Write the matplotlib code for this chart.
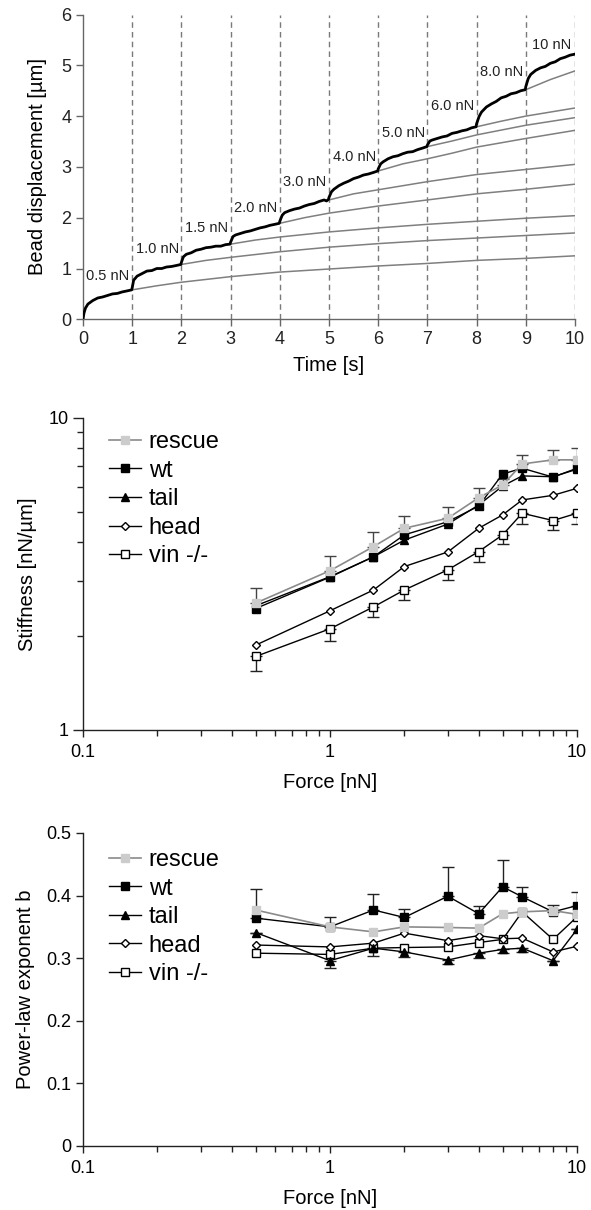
import numpy as np
import matplotlib
matplotlib.use("Agg")
import matplotlib.pyplot as plt
from matplotlib.ticker import LogLocator, NullFormatter, FixedLocator, FixedFormatter

plt.rcParams['font.family'] = ['Liberation Sans', 'DejaVu Sans']

# ---- panel A: bead displacement trace ----
trace_t = [0.00, 0.02, 0.05, 0.10, 0.20, 0.30, 0.40, 0.50, 0.60, 0.70, 0.80, 0.90, 0.99,
           1.00, 1.03, 1.10, 1.20, 1.30, 1.40, 1.50, 1.60, 1.70, 1.80, 1.90, 1.99,
           2.00, 2.04, 2.10, 2.20, 2.30, 2.40, 2.50, 2.60, 2.70, 2.80, 2.90, 2.99,
           3.00, 3.05, 3.10, 3.20, 3.30, 3.40, 3.50, 3.60, 3.70, 3.80, 3.90, 3.99,
           4.00, 4.05, 4.10, 4.20, 4.30, 4.40, 4.50, 4.60, 4.70, 4.80, 4.90, 4.95, 4.99,
           5.00, 5.05, 5.10, 5.20, 5.30, 5.40, 5.50, 5.60, 5.70, 5.80, 5.90, 5.99,
           6.00, 6.05, 6.10, 6.20, 6.30, 6.40, 6.50, 6.60, 6.70, 6.80, 6.90, 6.99,
           7.00, 7.05, 7.10, 7.20, 7.30, 7.40, 7.50, 7.60, 7.70, 7.80, 7.90, 7.99,
           8.00, 8.05, 8.10, 8.20, 8.30, 8.40, 8.50, 8.60, 8.70, 8.80, 8.90, 8.99,
           9.00, 9.05, 9.10, 9.20, 9.30, 9.40, 9.50, 9.60, 9.70, 9.80, 9.90, 10.00]
trace_d = [0.00, 0.12, 0.22, 0.30, 0.37, 0.42, 0.44, 0.47, 0.50, 0.51, 0.54, 0.56, 0.58,
           0.62, 0.77, 0.85, 0.90, 0.95, 0.96, 1.00, 1.00, 1.03, 1.04, 1.06, 1.08,
           1.12, 1.23, 1.28, 1.31, 1.36, 1.38, 1.41, 1.42, 1.44, 1.44, 1.47, 1.48,
           1.52, 1.63, 1.66, 1.69, 1.72, 1.74, 1.77, 1.80, 1.82, 1.85, 1.87, 1.89,
           1.93, 2.05, 2.10, 2.14, 2.17, 2.19, 2.23, 2.26, 2.28, 2.32, 2.35, 2.33, 2.36,
           2.40, 2.51, 2.56, 2.63, 2.68, 2.72, 2.77, 2.80, 2.84, 2.86, 2.89, 2.92,
           2.96, 3.06, 3.10, 3.16, 3.20, 3.22, 3.26, 3.29, 3.30, 3.34, 3.37, 3.40,
           3.43, 3.51, 3.53, 3.56, 3.59, 3.61, 3.66, 3.68, 3.71, 3.73, 3.77, 3.79,
           3.85, 3.99, 4.08, 4.18, 4.24, 4.29, 4.36, 4.39, 4.44, 4.46, 4.50, 4.52,
           4.58, 4.74, 4.82, 4.90, 4.95, 4.98, 5.04, 5.07, 5.13, 5.16, 5.20, 5.22]

# power-law extrapolations after each step
fit1_t = [1, 1.5, 2, 3, 4, 5, 6, 7, 8, 9, 10]
fit1_d = [0.58, 0.66, 0.73, 0.84, 0.93, 0.99, 1.05, 1.10, 1.16, 1.20, 1.25]
fit2_t = [2, 2.5, 3, 4, 5, 6, 7, 8, 9, 10]
fit2_d = [1.08, 1.16, 1.22, 1.33, 1.42, 1.49, 1.55, 1.60, 1.65, 1.70]
fit3_t = [3, 3.5, 4, 5, 6, 7, 8, 9, 10]
fit3_d = [1.48, 1.56, 1.62, 1.72, 1.80, 1.87, 1.93, 1.99, 2.04]
fit4_t = [4, 4.5, 5, 6, 7, 8, 9, 10]
fit4_d = [1.89, 2.00, 2.09, 2.23, 2.35, 2.47, 2.56, 2.66]
fit5_t = [5, 5.5, 6, 7, 8, 9, 10]
fit5_d = [2.35, 2.47, 2.55, 2.71, 2.85, 2.95, 3.05]
fit6_t = [6, 6.5, 7, 7.5, 8, 9, 10]
fit6_d = [2.92, 3.06, 3.16, 3.27, 3.39, 3.56, 3.72]
fit7_t = [7, 7.5, 8, 9, 10]
fit7_d = [3.40, 3.51, 3.63, 3.82, 3.97]
fit8_t = [8, 8.5, 9, 9.5, 10]
fit8_d = [3.79, 3.90, 4.00, 4.08, 4.16]
fit9_t = [9, 9.5, 10]
fit9_d = [4.52, 4.72, 4.89]

step_times = [1, 2, 3, 4, 5, 6, 7, 8, 9, 10]
step_labels = ['0.5 nN', '1.0 nN', '1.5 nN', '2.0 nN', '3.0 nN', '4.0 nN',
               '5.0 nN', '6.0 nN', '8.0 nN', '10 nN']
label_t = [0.07, 1.08, 2.08, 3.07, 4.07, 5.08, 6.07, 7.07, 8.07, 9.12]
label_d = [0.85, 1.38, 1.79, 2.20, 2.71, 3.20, 3.67, 4.20, 4.87, 5.40]

# ---- panels B and C ----
force = [0.5, 1, 1.5, 2, 3, 4, 5, 6, 8, 10]

stiff_rescue = [2.55, 3.24, 3.87, 4.43, 4.77, 5.55, 6.10, 7.12, 7.34, 7.34]
stiff_rescue_err = [0.30, 0.38, 0.45, 0.43, 0.43, 0.43, 0.25, 0.50, 0.55, 0.66]
stiff_wt = [2.45, 3.09, 3.59, 4.22, 4.65, 5.22, 6.61, 6.90, 6.46, 6.90]
stiff_tail = [2.50, 3.10, 3.59, 4.06, 4.57, 5.26, 6.05, 6.52, 6.48, 6.85]
stiff_head = [1.87, 2.41, 2.81, 3.34, 3.72, 4.43, 4.89, 5.46, 5.65, 5.95]
stiff_vin = [1.72, 2.11, 2.48, 2.81, 3.26, 3.73, 4.22, 4.95, 4.69, 4.95]
stiff_vin_err = [0.18, 0.18, 0.18, 0.20, 0.23, 0.27, 0.27, 0.38, 0.31, 0.38]

b_rescue = [0.377, 0.350, 0.342, 0.350, 0.349, 0.348, 0.371, 0.374, 0.376, 0.370]
b_wt = [0.364, 0.350, 0.377, 0.365, 0.399, 0.371, 0.414, 0.398, 0.374, 0.384]
b_wt_err = [0.046, 0.015, 0.025, 0.014, 0.046, 0.012, 0.043, 0.015, 0.011, 0.022]
b_tail = [0.341, 0.296, 0.316, 0.310, 0.297, 0.308, 0.314, 0.316, 0.296, 0.346]
b_tail_err = [0.0, 0.011, 0.012, 0.008, 0.006, 0.008, 0.006, 0.006, 0.0, 0.0]
b_head = [0.321, 0.318, 0.324, 0.340, 0.328, 0.336, 0.331, 0.332, 0.310, 0.319]
b_vin = [0.308, 0.306, 0.316, 0.317, 0.318, 0.325, 0.330, 0.374, 0.330, 0.366]

names = ['rescue', 'wt', 'tail', 'head', 'vin -/-']

fig = plt.figure(figsize=(5.91, 12.10), dpi=100)

TICK_FS = 13
LAB_FS = 14.5

# ---------------- top ----------------
ax1 = fig.add_axes([0.1404, 0.7361, 0.8325, 0.2519])
for st in step_times:
    ax1.axvline(st, color='#7a7a7a', lw=1.0, ls=(0, (4, 3)), zorder=1)
fits = [(fit1_t, fit1_d), (fit2_t, fit2_d), (fit3_t, fit3_d), (fit4_t, fit4_d),
        (fit5_t, fit5_d), (fit6_t, fit6_d), (fit7_t, fit7_d), (fit8_t, fit8_d),
        (fit9_t, fit9_d)]
for ft, fd in fits:
    ax1.plot(ft, fd, color='#7f7f7f', lw=1.1, zorder=2)
ax1.plot(trace_t, trace_d, color='black', lw=2.0, zorder=3, solid_joinstyle='round')
for lt, ld, s in zip(label_t, label_d, step_labels):
    ax1.text(lt, ld, s, fontsize=10.5, ha='left', va='center', color='#222222', zorder=4)
ax1.set_xlim(0, 10)
ax1.set_ylim(0, 6)
ax1.set_xticks(range(0, 11))
ax1.set_yticks(range(0, 7))
ax1.spines['top'].set_visible(False)
ax1.spines['right'].set_visible(False)
for sp in ['left', 'bottom']:
    ax1.spines[sp].set_color('#666666')
    ax1.spines[sp].set_linewidth(1.0)
ax1.tick_params(direction='out', length=5, width=1, color='#666666',
                labelsize=TICK_FS, labelcolor='#222222')
ax1.set_xlabel('Time [s]', fontsize=LAB_FS, labelpad=6)
ax1.set_ylabel('Bead displacement [µm]', fontsize=LAB_FS, labelpad=10)


def style_force_axis(ax):
    ax.set_xscale('log')
    ax.set_xlim(0.1, 10)
    ax.xaxis.set_major_locator(FixedLocator([0.1, 1, 10]))
    ax.xaxis.set_major_formatter(FixedFormatter(['0.1', '1', '10']))
    ax.xaxis.set_minor_locator(LogLocator(base=10, subs=np.arange(2, 10)))
    ax.xaxis.set_minor_formatter(NullFormatter())
    ax.spines['top'].set_visible(False)
    ax.spines['right'].set_visible(False)
    for sp in ['left', 'bottom']:
        ax.spines[sp].set_color('#222222')
        ax.spines[sp].set_linewidth(1.0)
    ax.tick_params(which='major', direction='out', length=5, width=1,
                   labelsize=TICK_FS, color='#222222')
    ax.tick_params(which='minor', direction='out', length=4, width=1, color='#222222')
    ax.tick_params(axis='x', which='major', pad=5)
    ax.set_xlabel('Force [nN]', fontsize=LAB_FS, labelpad=9)


def draw_series(ax, vals):
    rescue, wt, tail, head, vin = vals
    ax.plot(force, vin, color='black', lw=1.0, marker='s', ms=5.5,
            mfc='white', mec='black', mew=1.0, label=names[4], zorder=3)
    ax.plot(force, head, color='black', lw=1.0, marker='D', ms=4.5,
            mfc='white', mec='black', mew=1.0, label=names[3], zorder=3)
    ax.plot(force, tail, color='black', lw=1.0, marker='^', ms=6,
            mfc='black', mec='black', label=names[2], zorder=4)
    ax.plot(force, wt, color='black', lw=1.0, marker='s', ms=5.5,
            mfc='black', mec='black', label=names[1], zorder=4)
    ax.plot(force, rescue, color='#8a8a8a', lw=1.2, marker='s', ms=6,
            mfc='#cccccc', mec='#cccccc', label=names[0], zorder=5)


def add_legend(ax, y):
    h, l = ax.get_legend_handles_labels()
    order = [l.index(n) for n in names]
    ax.legend([h[i] for i in order], [l[i] for i in order], loc='upper left',
              bbox_to_anchor=(0.052, y), frameon=False, fontsize=17,
              handlelength=1.35, handletextpad=0.35, labelspacing=0.28,
              borderpad=0, borderaxespad=0)


# ---------------- middle ----------------
ax2 = fig.add_axes([0.1404, 0.3967, 0.8359, 0.2579])
ax2.errorbar(force, stiff_rescue, yerr=[np.zeros(len(force)), stiff_rescue_err],
             fmt='none', ecolor='#444444', elinewidth=1.0, capsize=4, capthick=1.0, zorder=2)
ax2.errorbar(force, stiff_vin, yerr=[stiff_vin_err, np.zeros(len(force))],
             fmt='none', ecolor='#222222', elinewidth=1.0, capsize=4, capthick=1.0, zorder=2)
draw_series(ax2, [stiff_rescue, stiff_wt, stiff_tail, stiff_head, stiff_vin])
ax2.set_yscale('log')
ax2.set_ylim(1, 10)
ax2.yaxis.set_major_locator(FixedLocator([1, 10]))
ax2.yaxis.set_major_formatter(FixedFormatter(['1', '10']))
ax2.yaxis.set_minor_locator(LogLocator(base=10, subs=np.arange(2, 10)))
ax2.yaxis.set_minor_formatter(NullFormatter())
style_force_axis(ax2)
ax2.tick_params(axis='y', which='major', length=7)
ax2.set_ylabel('Stiffness [nN/µm]', fontsize=LAB_FS, labelpad=8)
add_legend(ax2, 0.958)

# ---------------- bottom ----------------
ax3 = fig.add_axes([0.1404, 0.0529, 0.8359, 0.2587])
ax3.errorbar(force, b_wt, yerr=[np.zeros(len(force)), b_wt_err],
             fmt='none', ecolor='#222222', elinewidth=1.0, capsize=4, capthick=1.0, zorder=2)
ax3.errorbar(force, b_tail, yerr=[b_tail_err, np.zeros(len(force))],
             fmt='none', ecolor='#222222', elinewidth=1.0, capsize=4, capthick=1.0, zorder=2)
draw_series(ax3, [b_rescue, b_wt, b_tail, b_head, b_vin])
ax3.set_ylim(0, 0.5)
ax3.set_yticks([0, 0.1, 0.2, 0.3, 0.4, 0.5])
ax3.set_yticklabels(['0', '0.1', '0.2', '0.3', '0.4', '0.5'])
style_force_axis(ax3)
ax3.set_ylabel('Power-law exponent b', fontsize=LAB_FS, labelpad=8)
add_legend(ax3, 0.949)

fig.savefig('out.png', dpi=100, facecolor='white')
